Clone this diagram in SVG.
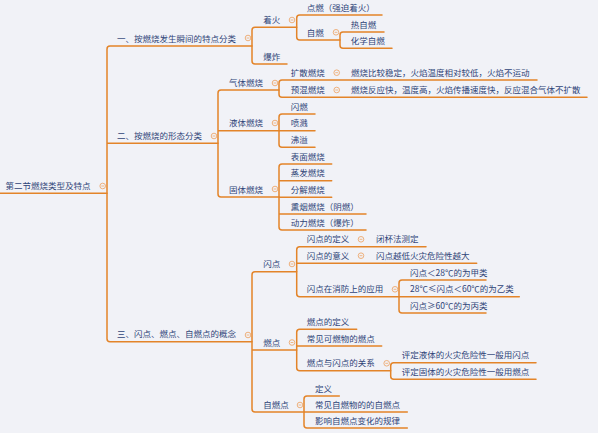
<svg xmlns="http://www.w3.org/2000/svg" xmlns:xlink="http://www.w3.org/1999/xlink" width="598" height="433" viewBox="0 0 598 433">
<style>
.t{font-family:"Noto Sans CJK SC","Noto Sans",sans-serif;font-size:8.5px;fill:#2f4478}
.c path{fill:none;stroke:#e38429;stroke-width:1.5;stroke-linecap:round}
</style>
<defs>
<g id="col"><circle r="2.8" fill="none" stroke="#eeb07c" stroke-width="1"/><path d="M-1.4,0H1.4" stroke="#eeb07c" stroke-width="0.9"/></g>
</defs>
<rect width="598" height="433" fill="#f1f2f7"/>
<g class="c" id="connectors">
<path d="M0,193.3H107"/>
<path d="M107,193.3V49Q107,46 110,46H252M107,193.3V338.7Q107,341.7 110,341.7H252M107,143.3H218"/>
<path d="M252,46V30.3Q252,27.3 255,27.3H296.7M252,46V61Q252,64 255,64H287"/>
<path d="M296.7,27.3V18Q296.7,15 299.7,15H382M296.7,27.3V37Q296.7,40 299.7,40H340"/>
<path d="M340,40V35Q340,32 343,32H384M340,40V45.3Q340,48.3 343,48.3H392"/>
<path d="M218,143.3V93Q218,90 221,90H279M218,143.3V194Q218,197 221,197H279M218,130.7H279"/>
<path d="M279,90V83Q279,80 282,80H537M279,90V94.3Q279,97.3 282,97.3H587"/>
<path d="M279,130.7V117Q279,114 282,114H315M279,130.7V144.3Q279,147.3 282,147.3H315M279,130.7H315"/>
<path d="M279,197V167Q279,164 282,164H331.7M279,197V227Q279,230 282,230H366M279,180.7H331.7M279,197.3H331.7M279,214H366"/>
<path d="M252,341.7V274.7Q252,271.7 255,271.7H296.7M252,341.7V409Q252,412 255,412H304M252,350H296.7"/>
<path d="M296.7,271.7V249.7Q296.7,246.7 299.7,246.7H426M296.7,271.7V293.7Q296.7,296.7 299.7,296.7H399M296.7,263.3H476.7"/>
<path d="M399,296.7V283Q399,280 402,280H486M399,296.7V310Q399,313 402,313H486M399,296.7H519.3"/>
<path d="M296.7,350V332.3Q296.7,329.3 299.7,329.3H356.7M296.7,350V367.7Q296.7,370.7 299.7,370.7H390.7M296.7,346H381.7"/>
<path d="M390.7,370.7V365.7Q390.7,362.7 393.7,362.7H536M390.7,370.7V376.3Q390.7,379.3 393.7,379.3H536"/>
<path d="M304,412V399Q304,396 307,396H339.3M304,412V425Q304,428 307,428H407.3M304,412H407.3"/>
</g>
<g id="root"><text class="t" x="5.5" y="188.8">第二节燃烧类型及特点</text><use xlink:href="#col" x="102.7" y="186"/></g>
<g id="b1"><text class="t" x="117" y="41.5">一、按燃烧发生瞬间的特点分类</text><use xlink:href="#col" x="248" y="38"/></g>
<g id="b2"><text class="t" x="117" y="138.8">二、按燃烧的形态分类</text><use xlink:href="#col" x="214" y="136"/></g>
<g id="b3"><text class="t" x="117" y="337.2">三、闪点、燃点、自燃点的概念</text><use xlink:href="#col" x="248" y="335"/></g>
<g id="zhaohuo"><text class="t" x="263.3" y="22.8">着火</text><use xlink:href="#col" x="292" y="20"/></g>
<g id="baozha"><text class="t" x="263.3" y="59.5">爆炸</text></g>
<g id="dianran"><text class="t" x="306.7" y="10.5">点燃（强迫着火）</text></g>
<g id="ziran"><text class="t" x="306.7" y="35.5">自燃</text><use xlink:href="#col" x="336" y="32.3"/></g>
<g id="reziran"><text class="t" x="350.7" y="27.5">热自燃</text></g>
<g id="huaxueziran"><text class="t" x="350.7" y="43.8">化学自燃</text></g>
<g id="qiti"><text class="t" x="229" y="85.5">气体燃烧</text><use xlink:href="#col" x="275" y="83"/></g>
<g id="yeti"><text class="t" x="229" y="126.2">液体燃烧</text><use xlink:href="#col" x="275" y="123"/></g>
<g id="guti"><text class="t" x="229" y="192.5">固体燃烧</text><use xlink:href="#col" x="275" y="189"/></g>
<g id="kuosan"><text class="t" x="290.7" y="75.5">扩散燃烧</text><use xlink:href="#col" x="336.7" y="72.7"/></g>
<g id="kuosan-d"><text class="t" x="351" y="75.5">燃烧比较稳定，火焰温度相对较低，火焰不运动</text></g>
<g id="yuhun"><text class="t" x="290.7" y="92.8">预混燃烧</text><use xlink:href="#col" x="336.7" y="90"/></g>
<g id="yuhun-d"><text class="t" x="351" y="92.8">燃烧反应快，温度高，火焰传播速度快，反应混合气体不扩散</text></g>
<g id="shanran"><text class="t" x="290.7" y="109.5">闪燃</text></g>
<g id="penjian"><text class="t" x="290.7" y="126.2">喷溅</text></g>
<g id="feiyi"><text class="t" x="290.7" y="142.8">沸溢</text></g>
<g id="biaomian"><text class="t" x="290.7" y="159.5">表面燃烧</text></g>
<g id="zhengfa"><text class="t" x="290.7" y="176.2">蒸发燃烧</text></g>
<g id="fenjie"><text class="t" x="290.7" y="192.8">分解燃烧</text></g>
<g id="xunyan"><text class="t" x="290.7" y="209.5">熏烟燃烧（阴燃）</text></g>
<g id="dongli"><text class="t" x="290.7" y="225.5">动力燃烧（爆炸）</text></g>
<g id="shandian"><text class="t" x="263.3" y="267.2">闪点</text><use xlink:href="#col" x="292" y="264"/></g>
<g id="randian"><text class="t" x="263.3" y="345.5">燃点</text><use xlink:href="#col" x="292" y="342.5"/></g>
<g id="ziriandian"><text class="t" x="263.3" y="407.5">自燃点</text><use xlink:href="#col" x="300" y="405"/></g>
<g id="sd-dingyi"><text class="t" x="306.7" y="242.2">闪点的定义</text><use xlink:href="#col" x="361" y="239.3"/></g>
<g id="sd-dingyi-d"><text class="t" x="376" y="242.2">闭杯法测定</text></g>
<g id="sd-yiyi"><text class="t" x="306.7" y="258.8">闪点的意义</text><use xlink:href="#col" x="361" y="255.7"/></g>
<g id="sd-yiyi-d"><text class="t" x="376" y="258.8">闪点越低火灾危险性越大</text></g>
<g id="sd-yingyong"><text class="t" x="306.7" y="292.2">闪点在消防上的应用</text><use xlink:href="#col" x="395" y="289.3"/></g>
<g id="jia"><text class="t" x="410" y="275.5">闪点＜28℃的为甲类</text></g>
<g id="yi"><text class="t" x="410" y="292.2">28℃≤闪点＜60℃的为乙类</text></g>
<g id="bing"><text class="t" x="410" y="308.5">闪点≥60℃的为丙类</text></g>
<g id="rd-dingyi"><text class="t" x="306.7" y="324.8">燃点的定义</text></g>
<g id="rd-changjian"><text class="t" x="306.7" y="341.5">常见可燃物的燃点</text></g>
<g id="rd-guanxi"><text class="t" x="306.7" y="366.2">燃点与闪点的关系</text><use xlink:href="#col" x="386.7" y="363.3"/></g>
<g id="pd-yeti"><text class="t" x="401.7" y="358.2">评定液体的火灾危险性一般用闪点</text></g>
<g id="pd-guti"><text class="t" x="401.7" y="374.8">评定固体的火灾危险性一般用燃点</text></g>
<g id="zrd-dingyi"><text class="t" x="315" y="391.5">定义</text></g>
<g id="zrd-changjian"><text class="t" x="315" y="407.5">常见自燃物的的自燃点</text></g>
<g id="zrd-yingxiang"><text class="t" x="315" y="423.5">影响自燃点变化的规律</text></g>
</svg>
